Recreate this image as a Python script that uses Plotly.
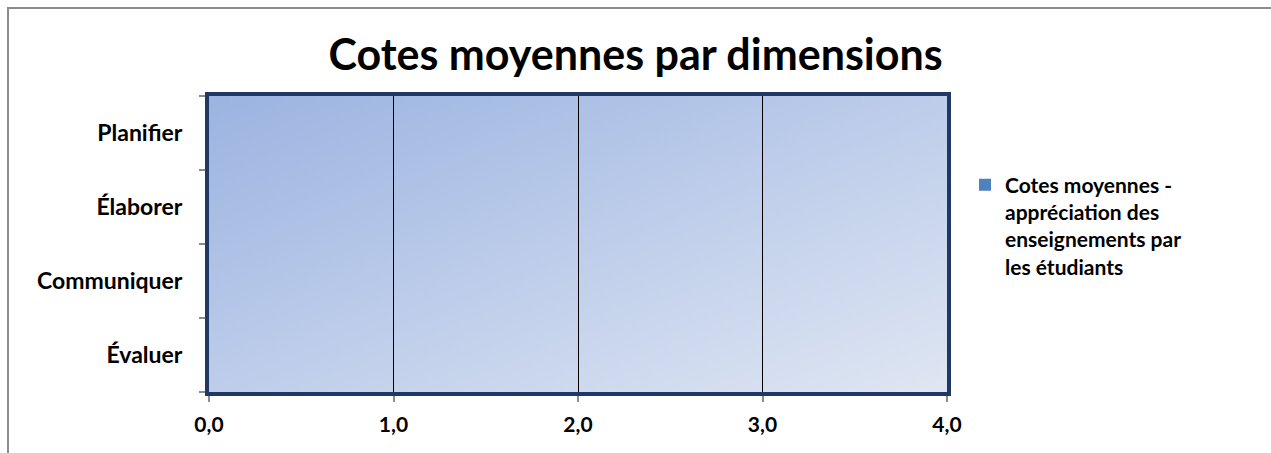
import base64, struct, zlib
import plotly.graph_objects as go

categories = ["Planifier", "Élaborer", "Communiquer", "Évaluer"]
values = [0, 0, 0, 0]
series_name = "Cotes moyennes -<br>appréciation des<br>enseignements par<br>les étudiants"
x_ticks = [0, 1, 2, 3, 4]
x_tick_labels = ["0,0", "1,0", "2,0", "3,0", "4,0"]

W, H = 1271, 453
ML, MR, MT, MB = 209, 324, 96, 61
FONT = "Lato, 'Open Sans', sans-serif"


def gradient_png(w, h, c0, c1):
    rows = b""
    for yy in range(h):
        row = b"\x00"
        for xx in range(w):
            t = (xx / (w - 1) + yy / (h - 1)) / 2
            row += bytes(int(round(c0[i] + (c1[i] - c0[i]) * t)) for i in range(3))
        rows += row

    def chunk(tag, data):
        c = tag + data
        return struct.pack(">I", len(data)) + c + struct.pack(">I", zlib.crc32(c) & 0xFFFFFFFF)

    png = b"\x89PNG\r\n\x1a\n"
    png += chunk(b"IHDR", struct.pack(">IIBBBBB", w, h, 8, 2, 0, 0, 0))
    png += chunk(b"IDAT", zlib.compress(rows, 9))
    png += chunk(b"IEND", b"")
    return "data:image/png;base64," + base64.b64encode(png).decode()


bg = gradient_png(160, 64, (156, 180, 225), (223, 230, 243))

fig = go.Figure()
fig.add_trace(go.Bar(
    y=categories, x=values, orientation="h", name=series_name,
    marker=dict(color="#4f81bd", line=dict(width=0)), showlegend=True,
))

pw = W - ML - MR
ph = H - MT - MB

fig.update_layout(
    width=W, height=H,
    margin=dict(l=ML, r=MR, t=MT, b=MB, pad=0),
    paper_bgcolor="white", plot_bgcolor="rgba(0,0,0,0)",
    separators=", ",
    font=dict(family=FONT, color="black", size=16),
    title=dict(text="<b>Cotes moyennes par dimensions</b>", x=0.5, xanchor="center",
               y=1 - 55 / H, yanchor="middle", font=dict(size=43, family=FONT)),
    showlegend=True,
    legend=dict(x=(965 - ML) / pw, xanchor="left", y=(H - MB - 226) / ph, yanchor="middle",
                font=dict(size=21, family=FONT, weight="bold"), bgcolor="rgba(0,0,0,0)",
                itemwidth=30, tracegroupgap=0, valign="top"),
    images=[dict(source=bg, xref="paper", yref="paper", x=0, y=1, sizex=1, sizey=1,
                 xanchor="left", yanchor="top", sizing="stretch", layer="below")],
    shapes=[dict(type="rect", xref="paper", yref="paper",
                 x0=(8 - ML) / pw, y0=-(H + 20 - MT - ph) / ph - 1,
                 x1=(W + 20 - ML) / pw, y1=1 + (MT - 8) / ph,
                 line=dict(color="#8c8c8c", width=2), fillcolor="rgba(0,0,0,0)", layer="below")],
    bargap=0.5,
)

fig.update_xaxes(
    range=[0, 4], tickvals=x_ticks, ticktext=x_tick_labels,
    showgrid=True, gridcolor="black", gridwidth=1,
    showline=True, linecolor="#1f3864", linewidth=4, mirror=True,
    ticks="outside", ticklen=6, tickcolor="#8c8c8c", tickwidth=2,
    tickfont=dict(size=21, family=FONT, weight="bold"), ticklabelstandoff=5,
    zeroline=False, fixedrange=True,
)
fig.update_yaxes(
    categoryorder="array", categoryarray=categories[::-1],
    showgrid=False, showline=True, linecolor="#1f3864", linewidth=4, mirror=True,
    ticks="outside", ticklen=6, tickcolor="#8c8c8c", tickwidth=2, tickson="boundaries",
    tickfont=dict(size=23, family=FONT, weight="bold"), ticklabelstandoff=18,
    fixedrange=True,
)

fig.write_html("out.html", config={"displayModeBar": False})

with open("out.html", encoding="utf-8") as f:
    html = f.read()
html = html.replace("<head>", "<head><style>html,body{margin:0;padding:0;overflow:hidden;}</style>", 1)
with open("out.html", "w", encoding="utf-8") as f:
    f.write(html)
